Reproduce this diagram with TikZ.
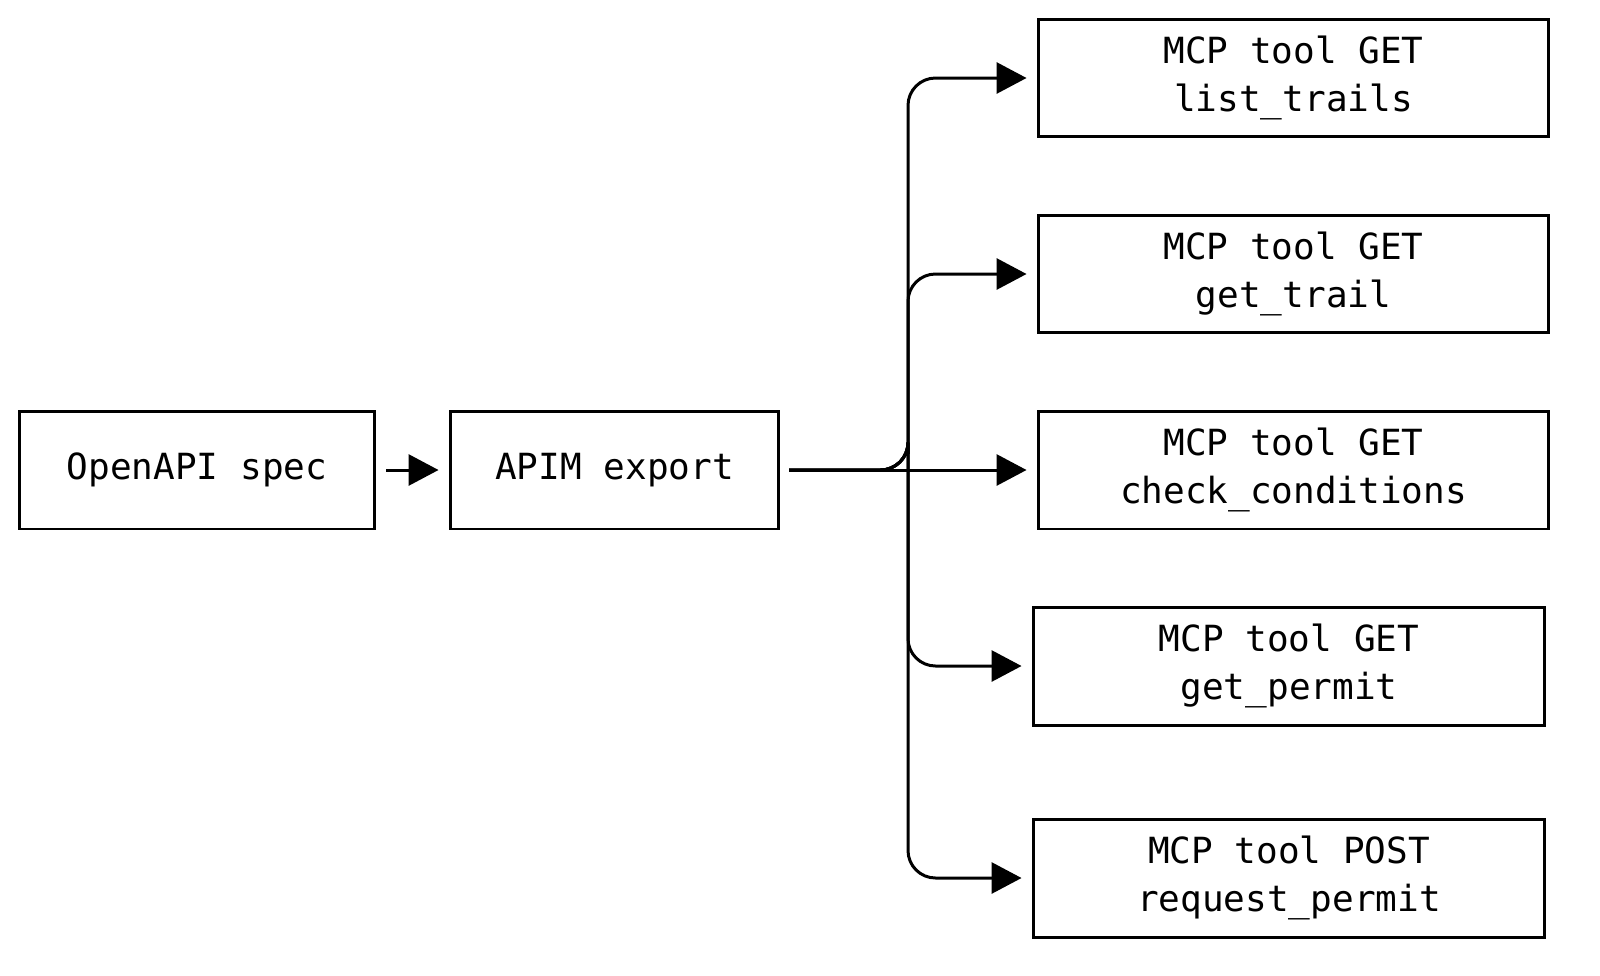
\documentclass[tikz,border=0pt]{standalone}
\usepackage{fontspec}
\setmonofont{DejaVu Sans Mono}
\usetikzlibrary{arrows.meta}
\begin{document}
\begin{tikzpicture}[x=0.02cm,y=-0.02cm,
  box/.style={draw,line width=0.06cm,minimum height=2.36cm,font=\ttfamily\fontsize{20.5}{27}\selectfont,align=center,inner sep=0pt},
  conn/.style={line width=0.06cm,-{Triangle[length=0.6cm,width=0.62cm]},rounded corners=0.55cm}]
\useasboundingbox (0,0) rectangle (1600,975);
\node[box,minimum width=7.12cm] (spec) at (197,470) {OpenAPI spec};
\node[box,minimum width=6.58cm] (apim) at (614.5,470) {APIM export};
\node[box,minimum width=10.22cm] (t1) at (1293.5,78) {MCP tool GET\\list\_trails};
\node[box,minimum width=10.22cm] (t2) at (1293.5,274) {MCP tool GET\\get\_trail};
\node[box,minimum width=10.22cm] (t3) at (1293.5,470) {MCP tool GET\\check\_conditions};
\node[box,minimum width=10.24cm] (t4) at (1289,666) {MCP tool GET\\get\_permit};
\node[box,minimum width=10.24cm] (t5) at (1289,878) {MCP tool POST\\request\_permit};
\coordinate (s) at (789,470);
\draw[conn] ([xshift=0.2cm]spec.east) -- ([xshift=-0.2cm]apim.west);
\foreach \t in {t1,t2,t4,t5}
  \draw[conn] (s) -| (908,470) |- ([xshift=-0.2cm]\t.west);
\draw[conn] (s) -- ([xshift=-0.2cm]t3.west);
\end{tikzpicture}
\end{document}
